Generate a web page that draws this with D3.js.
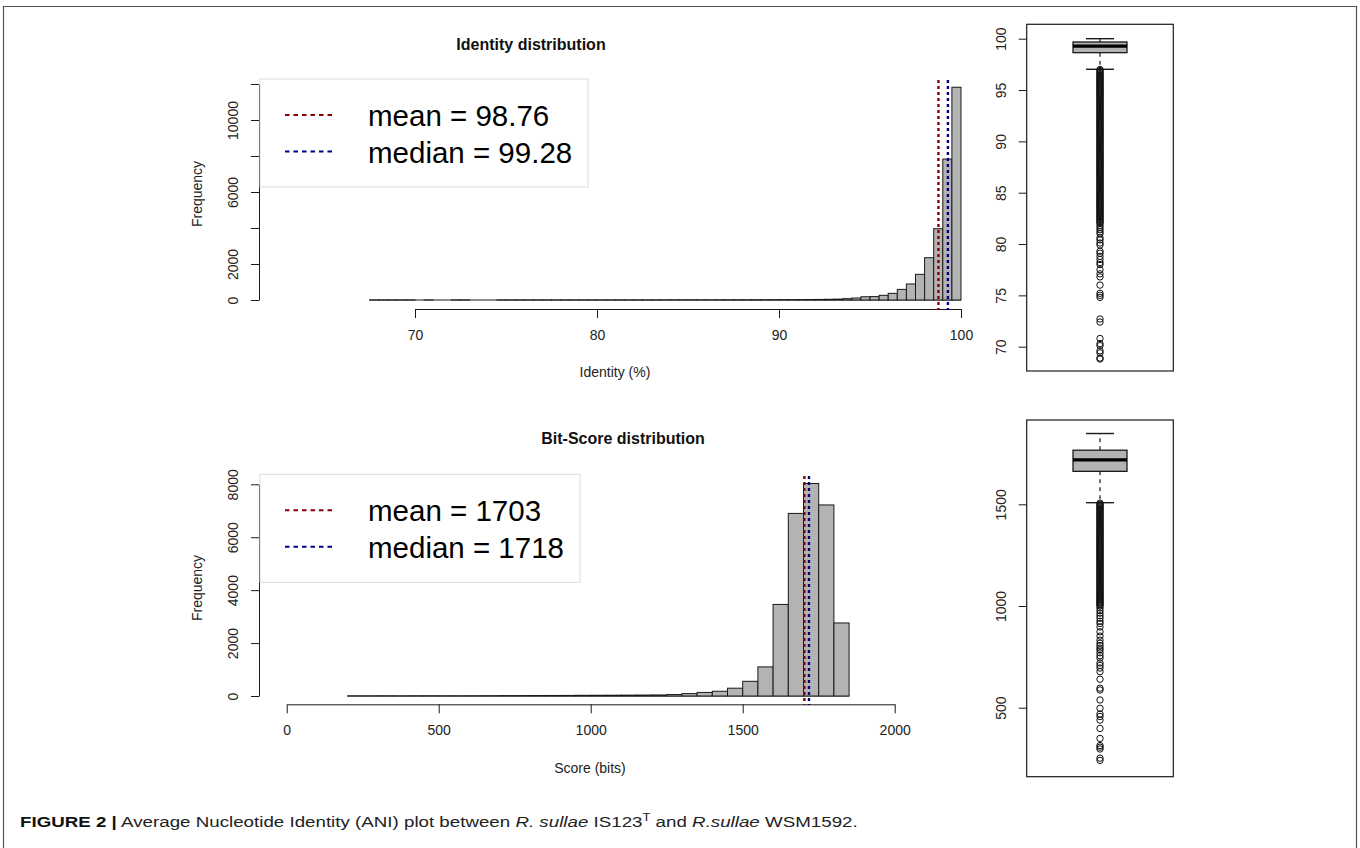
<!DOCTYPE html>
<html><head><meta charset="utf-8">
<script src="https://cdn.jsdelivr.net/npm/d3@7"></script>
<style>
body{margin:0;background:#fff}
svg text{font-family:"Liberation Sans",Arial,Helvetica,sans-serif}
</style>
</head><body>
<svg id="chart" width="1360" height="848"></svg>
<script>
// ---------------- DATA ----------------
const identityTitle = "Identity distribution";
const identityXLabel = "Identity (%)";
const identityBreakStart = 67.5, identityBreakWidth = 0.5;
const identityCounts = [
  2, 4, 1, 2, 1, 0, 1, 0, 0, 1,          // 67.5 .. 72.0
  2, 0, 0, 0, 2, 1, 1, 1, 2, 2,          // 72.5 .. 77.0
  1, 2, 2, 2, 1, 2, 2, 3, 3, 4,          // 77.5 .. 82.0
  4, 5, 5, 6, 6, 7, 7, 8, 9, 10,         // 82.5 .. 87.0
  11, 12, 13, 14, 16, 18, 20, 23, 27, 32,// 87.5 .. 92.0
  40, 50, 75, 110, 180, 190, 260, 370, 590, 890, // 92.5 .. 97.0
  1425, 2350, 3960, 7830, 11820         // 97.5 .. 99.5
];
const identityXTicks = [70, 80, 90, 100];
const identityYTicks = [0, 2000, 4000, 6000, 8000, 10000, 12000];
const identityYLabels = [0, 2000, 6000, 10000];
const identityMean = 98.76, identityMedian = 99.28;
const identityLegend = ["mean = 98.76", "median = 99.28"];

const scoreTitle = "Bit-Score distribution";
const scoreXLabel = "Score (bits)";
const scoreBreakStart = 200, scoreBreakWidth = 50;
const scoreCounts = [
  2, 3, 5, 3, 5, 6, 5, 5, 7, 9,          // 200 .. 650
  14, 16, 18, 20, 22, 26, 28, 30, 33, 36,// 700 .. 1150
  40, 55, 90, 135, 180, 295, 555, 1100, 3460, 6900, // 1200 .. 1650
  8030, 7220, 2760                       // 1700 .. 1800
];
const scoreXTicks = [0, 500, 1000, 1500, 2000];
const scoreYTicks = [0, 2000, 4000, 6000, 8000];
const scoreMean = 1703, scoreMedian = 1718;
const scoreLegend = ["mean = 1703", "median = 1718"];

// boxplot stats: [lower whisker, Q1, median, Q3, upper whisker]
const identityStats = [97.02, 98.64, 99.28, 99.68, 100.0];
const identityBoxTicks = [70, 75, 80, 85, 90, 95, 100];
const identityOutliers = [
  68.8, 68.9, 69.4, 69.6, 70.1, 70.3, 70.8, 72.4, 72.7,
  74.8, 75.0, 75.2, 76.0, 76.8, 77.1, 77.5, 78.0, 78.2, 78.5,
  78.8, 79.1, 79.3, 79.9, 80.1, 80.4, 80.6, 81.0, 81.2, 81.4, 81.6, 81.8,
  82.0, 82.1, 82.2, 82.3, 82.4, 82.5, 82.6, 82.7, 82.8, 82.9,
  83.0, 83.1, 83.2, 83.3, 83.4, 83.5, 83.6, 83.7, 83.8, 83.9,
  84.0, 84.1, 84.2, 84.3, 84.4, 84.5, 84.6, 84.7, 84.8, 84.9,
  85.0, 85.1, 85.2, 85.3, 85.4, 85.5, 85.6, 85.7, 85.8, 85.9,
  86.0, 86.1, 86.2, 86.3, 86.4, 86.5, 86.6, 86.7, 86.8, 86.9,
  87.0, 87.1, 87.2, 87.3, 87.4, 87.5, 87.6, 87.7, 87.8, 87.9,
  88.0, 88.1, 88.2, 88.3, 88.4, 88.5, 88.6, 88.7, 88.8, 88.9,
  89.0, 89.1, 89.2, 89.3, 89.4, 89.5, 89.6, 89.7, 89.8, 89.9,
  90.0, 90.1, 90.2, 90.3, 90.4, 90.5, 90.6, 90.7, 90.8, 90.9,
  91.0, 91.1, 91.2, 91.3, 91.4, 91.5, 91.6, 91.7, 91.8, 91.9,
  92.0, 92.1, 92.2, 92.3, 92.4, 92.5, 92.6, 92.7, 92.8, 92.9,
  93.0, 93.1, 93.2, 93.3, 93.4, 93.5, 93.6, 93.7, 93.8, 93.9,
  94.0, 94.1, 94.2, 94.3, 94.4, 94.5, 94.6, 94.7, 94.8, 94.9,
  95.0, 95.1, 95.2, 95.3, 95.4, 95.5, 95.6, 95.7, 95.8, 95.9,
  96.0, 96.1, 96.2, 96.3, 96.4, 96.5, 96.6, 96.7, 96.8, 96.9, 97.0
];
const scoreStats = [1508, 1662, 1718, 1766, 1848];
const scoreBoxTicks = [500, 1000, 1500];
const scoreOutliers = [
  241, 252, 297, 306, 314, 349, 398, 439, 457, 469, 497, 538, 587, 596,
  640, 677, 695, 708, 720, 744, 756, 770, 784, 793, 805, 817, 832, 852,
  873, 897, 914, 925, 940, 952, 965, 978, 990,
  1000, 1005, 1010, 1015, 1020, 1025, 1030, 1035, 1040, 1045,
  1050, 1055, 1060, 1065, 1070, 1075, 1080, 1085, 1090, 1095,
  1100, 1105, 1110, 1115, 1120, 1125, 1130, 1135, 1140, 1145,
  1150, 1155, 1160, 1165, 1170, 1175, 1180, 1185, 1190, 1195,
  1200, 1205, 1210, 1215, 1220, 1225, 1230, 1235, 1240, 1245,
  1250, 1255, 1260, 1265, 1270, 1275, 1280, 1285, 1290, 1295,
  1300, 1305, 1310, 1315, 1320, 1325, 1330, 1335, 1340, 1345,
  1350, 1355, 1360, 1365, 1370, 1375, 1380, 1385, 1390, 1395,
  1400, 1405, 1410, 1415, 1420, 1425, 1430, 1435, 1440, 1445,
  1450, 1455, 1460, 1465, 1470, 1475, 1480, 1485, 1490, 1495,
  1500, 1505
];

// ---------------- DRAW ----------------
const svg = d3.select("#chart");
const INK = "#1a1a1a";
const BAR_FILL = "#b3b3b3";
const MEAN_COL = "#8b0000", MEDIAN_COL = "#00008b";
const plainFmt = d3.format("d");

// outer frame
svg.append("path").attr("d", "M3.5,848V6.5H1356.5V848")
  .attr("fill", "none").attr("stroke", "#555").attr("stroke-width", 1.2);

function styleAxis(g) {
  g.attr("color", INK).attr("font-family", null).attr("font-size", null);
  g.selectAll("text").attr("font-size", 14).attr("fill", "#222");
}

function histogram(cfg) {
  const g = svg.append("g");
  const breaks = cfg.counts.map((c, i) => cfg.start + i * cfg.width);
  const x = d3.scaleLinear().domain(cfg.xDomain).range(cfg.xRange);
  const y = d3.scaleLinear().domain(cfg.yDomain).range(cfg.yRange);

  // baseline under the (possibly empty) bins
  g.append("line")
    .attr("x1", x(breaks[0])).attr("x2", x(breaks[breaks.length - 1] + cfg.width))
    .attr("y1", y(0)).attr("y2", y(0)).attr("stroke", INK).attr("stroke-width", 1.2);

  // bars
  g.selectAll("rect.bar").data(cfg.counts).join("rect")
    .attr("class", "bar")
    .attr("x", (d, i) => x(breaks[i]))
    .attr("width", (d, i) => x(breaks[i] + cfg.width) - x(breaks[i]))
    .attr("y", d => y(d))
    .attr("height", d => y(0) - y(d))
    .attr("fill", BAR_FILL).attr("stroke", INK).attr("stroke-width", 1);

  // x axis
  const gx = g.append("g").attr("transform", `translate(0,${cfg.xAxisY})`)
    .call(d3.axisBottom(x).tickValues(cfg.xTicks).tickSize(9).tickSizeOuter(0)
      .tickPadding(12).tickFormat(plainFmt));
  styleAxis(gx);

  // y axis
  const gy = g.append("g").attr("transform", `translate(${cfg.yAxisX},0)`)
    .call(d3.axisLeft(y).tickValues(cfg.yTicks).tickSize(8).tickSizeOuter(0)
      .tickFormat(d => cfg.yLabels.includes(d) ? plainFmt(d) : ""));
  styleAxis(gy);
  gy.selectAll(".tick text").attr("x", null).attr("dy", null).attr("y", null)
    .attr("text-anchor", "middle")
    .attr("transform", "translate(-21,0) rotate(-90)");

  // vertical mean / median lines
  [[cfg.mean, MEAN_COL], [cfg.median, MEDIAN_COL]].forEach(([v, c]) => {
    g.append("line").attr("x1", x(v)).attr("x2", x(v))
      .attr("y1", cfg.vTop).attr("y2", cfg.vBottom)
      .attr("stroke", c).attr("stroke-width", 2.4).attr("stroke-dasharray", "3,3");
  });

  // titles
  g.append("text").attr("x", cfg.titleX).attr("y", cfg.titleY).attr("text-anchor", "middle")
    .attr("font-size", 16).attr("font-weight", "bold").attr("fill", "#111").text(cfg.title);
  g.append("text").attr("x", cfg.xLabelX).attr("y", cfg.xLabelY).attr("text-anchor", "middle")
    .attr("font-size", 14).attr("fill", "#222").text(cfg.xLabel);
  g.append("text").attr("text-anchor", "middle").attr("font-size", 14).attr("fill", "#222")
    .attr("transform", `translate(${cfg.yLabelX},${cfg.yLabelY}) rotate(-90)`).text("Frequency");

  // legend
  const L = cfg.legend;
  g.append("rect").attr("x", L.x).attr("y", L.y).attr("width", L.w).attr("height", L.h)
    .attr("fill", "#fff").attr("stroke", "#dcdcdc").attr("stroke-width", 1);
  cfg.legendText.forEach((t, i) => {
    const ly = L.y + 36 + i * 36.5;
    g.append("line").attr("x1", L.x + 25).attr("x2", L.x + 76).attr("y1", ly).attr("y2", ly)
      .attr("stroke", i === 0 ? MEAN_COL : MEDIAN_COL).attr("stroke-width", 2)
      .attr("stroke-dasharray", "4.5,4");
    g.append("text").attr("x", L.x + 108).attr("y", ly + 11).attr("font-size", 29.5)
      .attr("fill", "#000").text(t);
  });
}

histogram({
  counts: identityCounts, start: identityBreakStart, width: identityBreakWidth,
  xDomain: [70, 100], xRange: [415, 961], yDomain: [0, 12000], yRange: [300, 84],
  xTicks: identityXTicks, yTicks: identityYTicks, yLabels: identityYLabels,
  xAxisY: 309, yAxisX: 259, mean: identityMean, median: identityMedian,
  vTop: 80, vBottom: 310,
  title: identityTitle, titleX: 531, titleY: 50,
  xLabel: identityXLabel, xLabelX: 615, xLabelY: 377, yLabelX: 202, yLabelY: 194,
  legend: { x: 260, y: 79, w: 328, h: 108 }, legendText: identityLegend
});

histogram({
  counts: scoreCounts, start: scoreBreakStart, width: scoreBreakWidth,
  xDomain: [0, 2000], xRange: [286.7, 894.7], yDomain: [0, 8000], yRange: [696, 484.3],
  xTicks: scoreXTicks, yTicks: scoreYTicks, yLabels: scoreYTicks,
  xAxisY: 704.3, yAxisX: 259, mean: scoreMean, median: scoreMedian,
  vTop: 476, vBottom: 705,
  title: scoreTitle, titleX: 623, titleY: 444,
  xLabel: scoreXLabel, xLabelX: 590, xLabelY: 773, yLabelX: 202, yLabelY: 588,
  legend: { x: 260, y: 474.3, w: 320, h: 108 }, legendText: scoreLegend
});

function boxplot(cfg) {
  const g = svg.append("g");
  const y = d3.scaleLinear().domain(cfg.domain).range(cfg.range);
  const cx = 1100, hw = 27, cap = 14;
  const [lo, q1, med, q3, hi] = cfg.stats;

  g.append("rect").attr("x", 1026.7).attr("y", cfg.frameTop).attr("width", 146.6)
    .attr("height", cfg.frameBottom - cfg.frameTop)
    .attr("fill", "none").attr("stroke", INK).attr("stroke-width", 1.2);

  const gy = g.append("g").attr("transform", "translate(1026.7,0)")
    .call(d3.axisLeft(y).tickValues(cfg.ticks).tickSize(8).tickSizeOuter(0).tickFormat(plainFmt));
  gy.select(".domain").remove();
  styleAxis(gy);
  gy.selectAll(".tick text").attr("x", null).attr("dy", null).attr("y", null)
    .attr("text-anchor", "middle")
    .attr("transform", "translate(-21,0) rotate(-90)");

  // whiskers
  [[q3, hi], [q1, lo]].forEach(([a, b]) => {
    g.append("line").attr("x1", cx).attr("x2", cx).attr("y1", y(a)).attr("y2", y(b))
      .attr("stroke", INK).attr("stroke-width", 1.2).attr("stroke-dasharray", "4,4");
    g.append("line").attr("x1", cx - cap).attr("x2", cx + cap).attr("y1", y(b)).attr("y2", y(b))
      .attr("stroke", INK).attr("stroke-width", 1.4);
  });
  // box
  g.append("rect").attr("x", cx - hw).attr("y", y(q3)).attr("width", 2 * hw)
    .attr("height", y(q1) - y(q3)).attr("fill", BAR_FILL).attr("stroke", INK).attr("stroke-width", 1.3);
  g.append("line").attr("x1", cx - hw).attr("x2", cx + hw).attr("y1", y(med)).attr("y2", y(med))
    .attr("stroke", "#000").attr("stroke-width", 3.2);
  // outliers
  g.selectAll("circle").data(cfg.outliers).join("circle")
    .attr("cx", cx).attr("cy", d => y(d)).attr("r", 3.2)
    .attr("fill", "none").attr("stroke", "#111").attr("stroke-width", 1);
}

boxplot({ domain: [70, 100], range: [346.7, 38.7], stats: identityStats,
  ticks: identityBoxTicks, outliers: identityOutliers, frameTop: 24.3, frameBottom: 371 });
boxplot({ domain: [500, 1500], range: [707.7, 504.3], stats: scoreStats,
  ticks: scoreBoxTicks, outliers: scoreOutliers, frameTop: 420, frameBottom: 776.7 });

// caption
const cap = svg.append("text").attr("font-size", 14.5).attr("fill", "#222");
cap.append("tspan").attr("font-weight", "bold").attr("fill", "#111").text("FIGURE 2 |");
cap.append("tspan").text(" Average Nucleotide Identity (ANI) plot between ");
cap.append("tspan").attr("font-style", "italic").text("R. sullae");
cap.append("tspan").text(" IS123");
cap.append("tspan").attr("font-size", 10).attr("dy", -6).text("T");
cap.append("tspan").attr("dy", 6).text(" and ");
cap.append("tspan").attr("font-style", "italic").text("R.sullae");
cap.append("tspan").text(" WSM1592.");
const capW = cap.node().getComputedTextLength();
cap.attr("transform", `translate(20,827) scale(${838 / capW},1)`);
</script>
</body></html>
